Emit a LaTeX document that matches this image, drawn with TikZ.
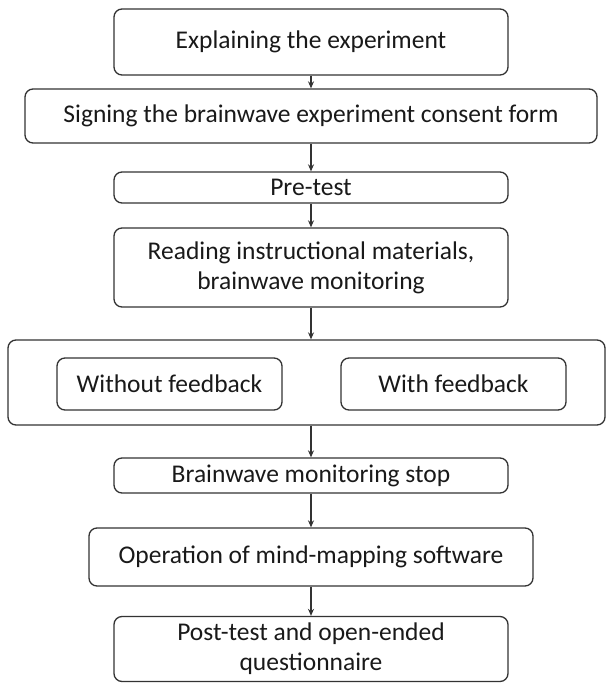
\documentclass[tikz,border=0pt]{standalone}
\usepackage{fontspec}
\setmainfont{Carlito}
\usetikzlibrary{arrows.meta}
\begin{document}
\begin{tikzpicture}[x=1pt,y=-1pt,
  box/.style={draw=black!80,line width=1.3pt,rounded corners=8pt,align=center,
    inner sep=0pt,font=\fontsize{25.5}{30}\selectfont,text=black!90},
  arr/.style={draw=black!80,line width=1.2pt,-{Stealth[length=7pt,width=6pt]}}]
\useasboundingbox (0,0) rectangle (607,683);
\node[box,minimum width=394,minimum height=66] (e1) at (311,42) {Explaining the experiment};
\node[box,minimum width=572,minimum height=54] (e2) at (311,116) {Signing the brainwave experiment consent form};
\node[box,minimum width=394,minimum height=31] (e3) at (311,187.5) {Pre-test};
\node[box,minimum width=394,minimum height=79] (e4) at (311,267.5) {Reading instructional materials,\\brainwave monitoring};
\node[box,minimum width=597,minimum height=85] (g) at (306.5,382.5) {};
\node[box,minimum width=225,minimum height=52] (g1) at (169.5,384) {Without feedback};
\node[box,minimum width=225,minimum height=52] (g2) at (453.5,384) {With feedback};
\node[box,minimum width=394,minimum height=35] (e5) at (311,475.5) {Brainwave monitoring stop};
\node[box,minimum width=444,minimum height=58] (e6) at (311,557) {Operation of mind-mapping software};
\node[box,minimum width=394,minimum height=65] (e7) at (311,649) {Post-test and open-ended\\questionnaire};
\draw[arr] (e1.south) -- (e2.north);
\draw[arr] (e2.south) -- (e3.north);
\draw[arr] (e3.south) -- (e4.north);
\draw[arr] (e4.south) -- (e4.south |- g.north);
\draw[arr] (e5.north |- g.south) -- (e5.north);
\draw[arr] (e5.south) -- (e6.north);
\draw[arr] (e6.south) -- (e7.north);
\end{tikzpicture}
\end{document}
